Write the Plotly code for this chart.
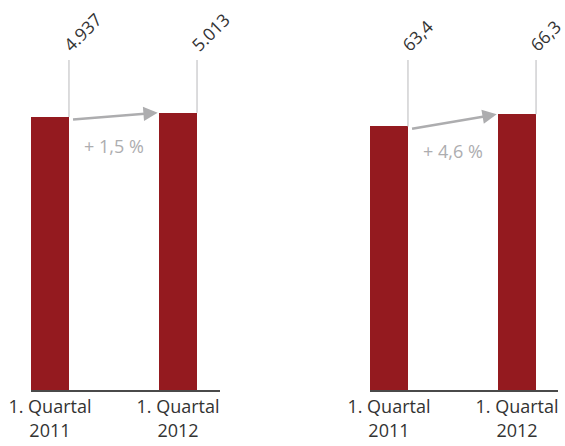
import plotly.graph_objects as go

categories = ["1. Quartal<br>2011", "1. Quartal<br>2012"]
left_values = [4937, 5013]
left_labels = ["4.937", "5.013"]
left_change = "+ 1,5 %"
right_values = [63.4, 66.3]
right_labels = ["63,4", "66,3"]
right_change = "+ 4,6 %"

BAR = "#941a1f"
GRAY = "#adadaf"
LINE = "#c4c4c6"
TXT = "#333333"
FONT = "Open Sans"

W, H = 565, 446
bw = 0.297
hw = bw / 2
panels = [
    dict(vals=left_values, labels=left_labels, change=left_change, ymax=7050,
         xdom=[31 / W, 220 / W], xr=[-0.148, 1.328], xa="x", ya="y"),
    dict(vals=right_values, labels=right_labels, change=right_change, ymax=93.8,
         xdom=[370 / W, 558 / W], xr=[-0.148, 1.32], xa="x2", ya="y2"),
]
ydom = [(H - 390) / H, 1.0]
top_frac = 330 / 390

fig = go.Figure()
annotations = []
shapes = []
for i, p in enumerate(panels):
    xs = list(range(len(categories)))
    fig.add_trace(go.Bar(x=xs, y=p["vals"], width=bw, marker_color=BAR,
                         marker_line_width=0, xaxis=p["xa"], yaxis=p["ya"],
                         showlegend=False, hoverinfo="skip"))
    top = p["ymax"] * top_frac
    for j, v in enumerate(p["vals"]):
        shapes.append(dict(type="line", xref=p["xa"], yref=p["ya"],
                           x0=j + hw, x1=j + hw, y0=v, y1=top,
                           line=dict(color=LINE, width=1.2)))
        annotations.append(dict(x=j + hw, y=top, xref=p["xa"], yref=p["ya"],
                                text=p["labels"][j], showarrow=False, textangle=-45,
                                xanchor="left", yanchor="bottom", xshift=-14, yshift=1,
                                font=dict(family=FONT, size=17.5, color=TXT)))
    v0, v1 = p["vals"]
    annotations.append(dict(x=1 - hw - 0.01, y=v1, ax=0 + hw + 0.02, ay=v0 * 0.99,
                            xref=p["xa"], yref=p["ya"], axref=p["xa"], ayref=p["ya"],
                            text="", showarrow=True, arrowhead=2, arrowsize=1.1,
                            arrowwidth=2.6, arrowcolor=GRAY))
    annotations.append(dict(x=0.5, y=(v0 + v1) / 2, xref=p["xa"], yref=p["ya"],
                            text=p["change"], showarrow=False, yshift=-31,
                            font=dict(family=FONT, size=18, color=GRAY)))

axis_common = dict(tickmode="array", tickvals=[0, 1], ticktext=categories,
                   showline=True, linecolor="#4a4a4a", linewidth=1.5,
                   showgrid=False, zeroline=False, ticks="", automargin=False,
                   tickfont=dict(family=FONT, size=18, color=TXT), fixedrange=True)
yaxis_common = dict(visible=False, showgrid=False, zeroline=False, domain=ydom,
                    automargin=False, fixedrange=True)

fig.update_layout(
    template="none",
    width=W, height=H, margin=dict(l=0, r=0, t=0, b=0, autoexpand=False),
    paper_bgcolor="white", plot_bgcolor="white",
    xaxis=dict(domain=panels[0]["xdom"], range=panels[0]["xr"], anchor="y", **axis_common),
    xaxis2=dict(domain=panels[1]["xdom"], range=panels[1]["xr"], anchor="y2", **axis_common),
    yaxis=dict(range=[0, panels[0]["ymax"]], anchor="x", **yaxis_common),
    yaxis2=dict(range=[0, panels[1]["ymax"]], anchor="x2", **yaxis_common),
    annotations=annotations, shapes=shapes, bargap=0,
)

fig.write_html("out.html")
